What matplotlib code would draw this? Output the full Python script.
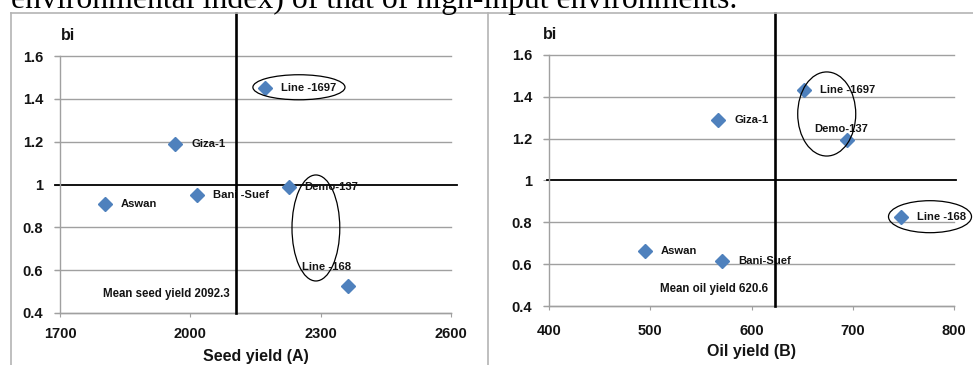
import matplotlib
matplotlib.use("Agg")
import matplotlib.pyplot as plt
from matplotlib.patches import Ellipse
from matplotlib.lines import Line2D

# values
labels_a = ['Aswan', 'Giza-1', 'Bani -Suef', 'Line -1697', 'Demo-137', 'Line -168']
seed_yield = [1804, 1965, 2015, 2172, 2226, 2364]
seed_bi = [0.91, 1.19, 0.95, 1.45, 0.99, 0.526]

labels_b = ['Aswan', 'Giza-1', 'Bani-Suef', 'Line -1697', 'Demo-137', 'Line -168']
oil_yield = [494.5, 567, 571, 652, 694, 748]
oil_bi = [0.663, 1.288, 0.614, 1.433, 1.194, 0.824]

seed_mean_text = 'Mean seed yield 2092.3'
seed_mean_x = 2105
oil_mean_text = 'Mean oil yield 620.6'
oil_mean_x = 623

y_ticks = [0.4, 0.6, 0.8, 1.0, 1.2, 1.4, 1.6]
y_ticklabels = ['0.4', '0.6', '0.8', '1', '1.2', '1.4', '1.6']
seed_ticks = [1700, 2000, 2300, 2600]
oil_ticks = [400, 500, 600, 700, 800]

# label offsets in points (default: to the right of the marker)
offs_a = {'Line -168': (-33.5, 13.9)}
offs_b = {'Demo-137': (-23.3, 7.7)}

# ellipses: (x, y, width, height) in data units
ell_a = [(2250, 1.454, 212, 0.117), (2289, 0.797, 110, 0.495)]
ell_b = [(674.3, 1.318, 57.3, 0.402), (776.3, 0.827, 82, 0.153)]

blue = '#4F81BD'
grid_c = '#a0a0a0'
txt_c = '#141414'
font = 'Liberation Sans'

fig = plt.figure(figsize=(9.73, 3.65), dpi=100)

# panel frames
frame_c = '#b4b4b4'
fig.add_artist(Line2D([11/973, 1], [1-13/365]*2, color=frame_c, lw=1.2))
fig.add_artist(Line2D([11/973]*2, [0, 1-13/365], color=frame_c, lw=1.2))
fig.add_artist(Line2D([488/973]*2, [0, 1-13/365], color=frame_c, lw=1.2))

# cut off line of text above the charts
hdr = fig.text(11/973, 1-8/365, 'environmental index) of that of high-input environments.',
               family='Liberation Serif', fontsize=20, ha='left', va='baseline', color='black')
fig.canvas.draw()
w = hdr.get_window_extent(fig.canvas.get_renderer()).width
hdr.set_fontsize(20 * 727 / w)


def panel(rect, xs, ys, labs, offs, ells, xticks, xlim, mean_x, mean_text, mean_pos,
          xlabel, xlab_y, xpad, vtop, hline_ext, bi_x):
    ax = fig.add_axes(rect)
    ax.set_xlim(xlim)
    ax.set_ylim(0.4, 1.6)
    for s in ['top', 'right']:
        ax.spines[s].set_visible(False)
    for s in ['left', 'bottom']:
        ax.spines[s].set_color(grid_c)
        ax.spines[s].set_linewidth(1)
    ax.set_yticks(y_ticks)
    ax.set_yticklabels(y_ticklabels)
    ax.set_xticks(xticks)
    ax.set_xticklabels([str(t) for t in xticks])
    ax.tick_params(axis='y', direction='out', length=4, color=grid_c, pad=8)
    ax.tick_params(axis='x', direction='out', length=3, color=grid_c, pad=xpad)
    for lab in ax.get_xticklabels() + ax.get_yticklabels():
        lab.set_fontfamily(font)
        lab.set_fontweight('bold')
        lab.set_fontsize(10.5)
        lab.set_color(txt_c)
    for t in y_ticks:
        if t != 1.0:
            ax.axhline(t, xmin=-0.012, xmax=1, color=grid_c, lw=1, clip_on=False, zorder=1)
    ax.axhline(1.0, xmin=hline_ext[0], xmax=hline_ext[1], color='black', lw=1.3,
               clip_on=False, zorder=2)
    ax.axvline(mean_x, ymin=0, ymax=vtop, color='black', lw=1.9, clip_on=False, zorder=4)

    ax.plot(xs, ys, linestyle='none', marker='D', markersize=7, color=blue, zorder=3)
    for x, y, lab in zip(xs, ys, labs):
        dx, dy = offs.get(lab, (11.5, 0))
        ax.annotate(lab, (x, y), xytext=(dx, dy), textcoords='offset points',
                    ha='left', va='center', fontsize=8.1, fontweight='bold',
                    family=font, color=txt_c, zorder=3, annotation_clip=False)
    for cx, cy, ew, eh in ells:
        ax.add_patch(Ellipse((cx, cy), ew, eh, fill=False, ec='black', lw=0.9,
                             clip_on=False, zorder=5))

    ax.text(mean_pos[0], mean_pos[1], mean_text, transform=ax.transAxes, ha='right',
            va='center', fontsize=8.3, fontweight='bold', family=font, color=txt_c)
    ax.text(bi_x, 1.08, 'bi', transform=ax.transAxes,
            ha='left', va='center', fontsize=11.5, fontweight='bold', family=font,
            color=txt_c)
    ax.set_xlabel(xlabel, fontsize=11.5, fontweight='bold', family=font, color=txt_c)
    ax.xaxis.set_label_coords(0.5, xlab_y)
    return ax


panel([60/973, 1-313/365, 391/973, 257/365], seed_yield, seed_bi, labels_a, offs_a,
      ell_a, seed_ticks, (1700, 2600), seed_mean_x, seed_mean_text, (0.435, 0.074),
      'Seed yield (A)', -0.14, 7, (313-13)/257, (-0.013, 1.015), 0.002)

panel([549/973, 1-306/365, 405/973, 251/365], oil_yield, oil_bi, labels_b, offs_b,
      ell_b, oil_ticks, (400, 800), oil_mean_x, oil_mean_text, (0.541, 0.0665),
      'Oil yield (B)', -0.151, 9.7, (306-13)/251, (-0.006, 1.005), -0.015)

fig.savefig('out.png', dpi=100)
